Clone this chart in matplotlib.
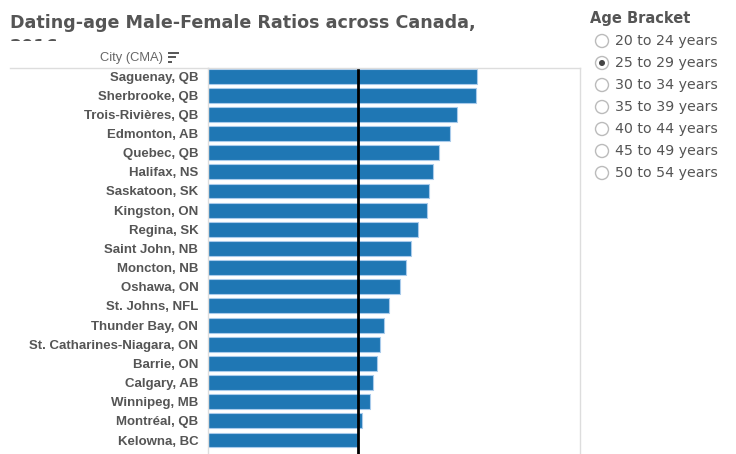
import matplotlib.pyplot as plt
from matplotlib.patches import Circle, Rectangle

# =========================
# 数据
# =========================
cities = [
    "Saguenay, QB", "Sherbrooke, QB", "Trois-Rivières, QB", "Edmonton, AB",
    "Quebec, QB", "Halifax, NS", "Saskatoon, SK", "Kingston, ON",
    "Regina, SK", "Saint John, NB", "Moncton, NB", "Oshawa, ON",
    "St. Johns, NFL", "Thunder Bay, ON", "St. Catharines-Niagara, ON",
    "Barrie, ON", "Calgary, AB", "Winnipeg, MB", "Montréal, QB", "Kelowna, BC",
]
ratios = [
    1.793, 1.787, 1.660, 1.613, 1.540, 1.500, 1.473, 1.460, 1.400, 1.353,
    1.320, 1.280, 1.207, 1.173, 1.147, 1.127, 1.100, 1.080, 1.027, 1.000,
]
parity = 1.0
brackets = [
    "20 to 24 years", "25 to 29 years", "30 to 34 years", "35 to 39 years",
    "40 to 44 years", "45 to 49 years", "50 to 54 years",
]
selected = "25 to 29 years"

W, H = 736, 454
fig = plt.figure(figsize=(W / 100, H / 100), dpi=100)

# =========================
# 主图
# =========================
ax = fig.add_axes([208 / W, 0, (580 - 208) / W, (H - 68) / H])
ypos = list(range(len(cities)))
ax.barh(ypos, ratios, height=0.78, color="#1f77b4",
        edgecolor="#a9cbeb", linewidth=0.8)
ax.axvline(parity, color="black", linewidth=2)
ax.set_xlim(0, 2.48)
ax.set_ylim(19.73, -0.42)
ax.set_yticks(ypos)
ax.set_yticklabels(cities, fontfamily="Liberation Sans", fontweight="bold",
                   fontsize=9.5, color="#555555")
ax.tick_params(axis="y", length=0, pad=7)
ax.set_xticks([])
for side in ["top", "right", "left"]:
    ax.spines[side].set_color("#dddddd")
    ax.spines[side].set_linewidth(1)
ax.spines["bottom"].set_visible(False)

# =========================
# 叠加层：标题、图例等
# =========================
ov = fig.add_axes([0, 0, 1, 1], zorder=-1)
ov.set_xlim(0, W)
ov.set_ylim(H, 0)
ov.axis("off")

ov.text(10, 27.5, "Dating-age Male-Female Ratios across Canada,",
        fontsize=12.6, fontweight="bold", color="#555555",
        fontfamily="DejaVu Sans", va="baseline")
# 第二行标题被截断，只露出顶部
t = ov.text(10, 52, "2016", fontsize=12.6, fontweight="bold",
            color="#555555", fontfamily="DejaVu Sans", va="baseline")
t.set_clip_on(True)
t.set_clip_path(Rectangle((0, 0), W, 41, transform=ov.transData))

ov.text(163, 58.5, "City (CMA)", fontsize=9.3, color="#666666",
        fontfamily="Liberation Sans", ha="right", va="center")
for yy, w in [(53, 11), (57, 8), (61.5, 3.5)]:
    ov.plot([168, 168 + w], [yy, yy], color="#555555", lw=1.4,
            solid_capstyle="butt")
ov.plot([10, 208], [68, 68], color="#dddddd", lw=1)

ov.text(590, 18, "Age Bracket", fontsize=10.5, fontweight="bold",
        color="#555555", fontfamily="DejaVu Sans", va="center")
for i, label in enumerate(brackets):
    y = 41 + 22 * i
    ov.add_patch(Circle((602, y), 6.5, facecolor="white",
                        edgecolor="#bbbbbb", lw=1))
    if label == selected:
        ov.add_patch(Circle((602, y), 3, facecolor="#444444", edgecolor="none"))
    ov.text(615, y, label, fontsize=10.2, color="#555555",
            fontfamily="DejaVu Sans", va="center")

fig.savefig("out.png", dpi=100)
